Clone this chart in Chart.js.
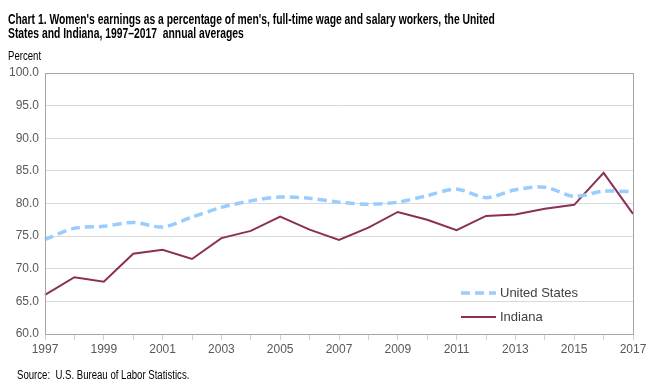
<!DOCTYPE html>
<html>
<head>
<meta charset="utf-8">
<script src="https://cdn.jsdelivr.net/npm/chart.js@4.4.1/dist/chart.umd.min.js"></script>
<style>
  body { margin: 0; background: #fff; }
  #wrap { position: relative; width: 664px; height: 392px; }
  .narrow { position: absolute; white-space: nowrap; transform-origin: 0 0; color: #000; }
  #title { left: 8px; top: 12px; font: bold 15px "Liberation Sans", Arial, sans-serif; line-height: 14px; transform: scaleX(0.69); }
  #unit { left: 8px; top: 49px; font: 12px "Liberation Sans", Arial, sans-serif; transform: scaleX(0.8); }
  #source { left: 17px; top: 368px; font: 12px "Liberation Sans", Arial, sans-serif; transform: scaleX(0.8); }
  canvas { position: absolute; left: 0; top: 0; }
</style>
</head>
<body>
<div id="wrap">
  <canvas id="grafico" width="664" height="392"></canvas>
  <div id="title" class="narrow">Chart 1. Women's earnings as a percentage of men's, full-time wage and salary workers, the United<br>States and Indiana, 1997–2017&nbsp; annual averages</div>
  <div id="unit" class="narrow">Percent</div>
  <div id="source" class="narrow">Source:&nbsp; U.S. Bureau of Labor Statistics.</div>
</div>
<script>
// dados
const anos = ['1997','1998','1999','2000','2001','2002','2003','2004','2005','2006','2007',
              '2008','2009','2010','2011','2012','2013','2014','2015','2016','2017'];
const estadosUnidos = [74.5, 76.2, 76.5, 77.1, 76.4, 77.9, 79.4, 80.4, 81.0, 80.8, 80.2,
                       79.9, 80.2, 81.2, 82.2, 80.9, 82.1, 82.5, 81.1, 81.9, 81.8];
const indiana = [66.0, 68.7, 68.0, 72.3, 72.9, 71.5, 74.7, 75.8, 78.0, 76.0, 74.4,
                 76.3, 78.7, 77.5, 75.9, 78.1, 78.3, 79.2, 79.8, 84.7, 78.4];

// moldura + legenda dentro do gráfico
const moldura = {
  id: 'moldura',
  afterDraw(chart) {
    const c = chart.ctx, a = chart.chartArea;
    c.save();
    c.strokeStyle = '#a6a6a6';
    c.lineWidth = 1;
    c.strokeRect(Math.round(a.left) + 0.5, Math.round(a.top) + 0.5,
                 Math.round(a.right - a.left), Math.round(a.bottom - a.top));
    c.font = '13px "Liberation Sans", Arial, sans-serif';
    c.textBaseline = 'middle';
    chart.data.datasets.forEach((ds, i) => {
      const y = 293 + i * 24;
      c.beginPath();
      c.strokeStyle = ds.borderColor;
      c.lineWidth = ds.borderWidth;
      c.setLineDash(ds.borderDash || []);
      c.moveTo(461, y);
      c.lineTo(496, y);
      c.stroke();
      c.setLineDash([]);
      c.fillStyle = '#404040';
      c.fillText(ds.label, 500, y);
    });
    c.restore();
  }
};

const ctx = document.getElementById('grafico');
new Chart(ctx, {
  type: 'line',
  data: {
    labels: anos,
    datasets: [
      { label: 'United States', data: estadosUnidos, borderColor: '#99CCFF', borderWidth: 3.5,
        borderDash: [9, 5], pointRadius: 0, tension: 0.3 },
      { label: 'Indiana', data: indiana, borderColor: '#8B2F57', borderWidth: 2,
        pointRadius: 0, tension: 0 }
    ]
  },
  options: {
    responsive: false,
    animation: false,
    layout: { padding: { top: 73, right: 31, bottom: 34, left: 0 } },
    plugins: { legend: { display: false }, tooltip: { enabled: false } },
    scales: {
      x: {
        offset: false,
        grid: { drawOnChartArea: false, drawTicks: true, tickLength: 6, color: '#d0d0d0' },
        border: { color: '#a6a6a6' },
        ticks: {
          autoSkip: false, maxRotation: 0, color: '#595959', padding: 2,
          font: { family: '"Liberation Sans", Arial, sans-serif', size: 12 },
          callback: (v, i) => (i % 2 === 0 ? anos[i] : '')
        },
        afterFit: s => { s.height = 24; }
      },
      y: {
        min: 60, max: 100,
        grid: { color: '#d9d9d9', drawTicks: false },
        border: { color: '#a6a6a6' },
        ticks: {
          stepSize: 5, color: '#595959', padding: 6,
          font: { family: '"Liberation Sans", Arial, sans-serif', size: 12 },
          callback: v => v.toFixed(1)
        },
        afterFit: s => { s.width = 45; }
      }
    }
  },
  plugins: [moldura]
});
</script>
</body>
</html>
